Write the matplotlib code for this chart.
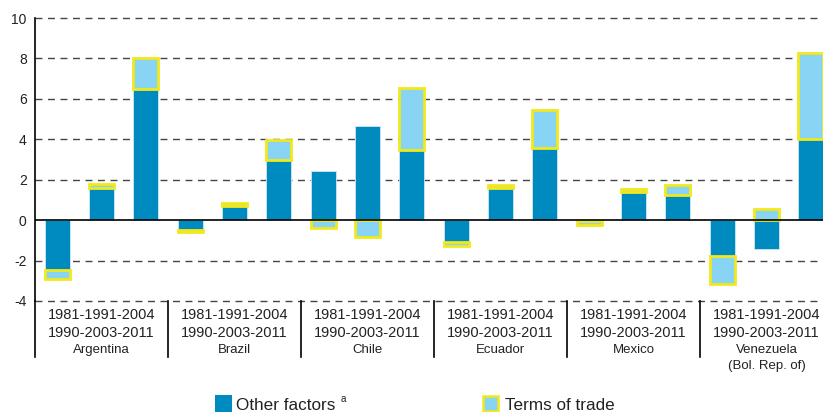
import matplotlib
matplotlib.use('Agg')
import numpy as np
import matplotlib.pyplot as plt
from matplotlib.patches import Rectangle

plt.rcParams['font.family'] = ['Liberation Sans', 'DejaVu Sans']
plt.rcParams['axes.unicode_minus'] = False

# data
countries = ['Argentina', 'Brazil', 'Chile', 'Ecuador', 'Mexico', 'Venezuela\n(Bol. Rep. of)']
periods_top = '1981-1991-2004'
periods_bottom = '1990-2003-2011'
other_factors = [-2.45, 1.6, 6.5,
                 -0.47, 0.7, 3.0,
                 2.45, 4.65, 3.46,
                 -1.1, 1.6, 3.55,
                 -0.05, 1.4, 1.23,
                 -1.79, -1.43, 4.02]
terms_of_trade = [-0.45, 0.2, 1.5,
                  -0.1, 0.13, 0.95,
                  -0.4, -0.85, 3.1,
                  -0.2, 0.12, 1.9,
                  -0.2, 0.15, 0.5,
                  -1.36, 0.55, 4.24]

blue = '#008bc0'
light = '#87d4f5'
yellow = '#f2e81a'
txt = '#222222'

W, H = 823, 412
fig = plt.figure(figsize=(W / 100, H / 100), dpi=100)
# the plot runs a little past the right edge of the picture, as in the original
ax = fig.add_axes([35 / W, 1 - 301 / H, 798 / W, 283 / H])

x = np.arange(len(other_factors))
of = np.array(other_factors)
tt = np.array(terms_of_trade)
# terms of trade stacks on other factors when same sign, else starts from zero
bottoms = np.where(np.sign(of) == np.sign(tt), of, 0.0)

ax.bar(x, of, width=0.56, color=blue, edgecolor='#cde9f4', linewidth=0.6, zorder=2)
ax.bar(x, tt, width=0.56, bottom=bottoms, color=light, edgecolor=yellow,
       linewidth=2.0, zorder=2)

ax.set_xlim(-0.5, len(x) - 0.5)
ax.set_ylim(-4, 10)
ax.set_yticks(range(-4, 11, 2))
for v in range(-4, 11, 2):
    if v != 0:
        ax.axhline(v, color='#444444', lw=1.0, ls=(0, (5, 4)), zorder=1, clip_on=False)
ax.axhline(0, color='black', lw=1.2, zorder=3)

for s in ['top', 'right', 'bottom']:
    ax.spines[s].set_visible(False)
ax.spines['left'].set_color('black')
ax.spines['left'].set_linewidth(1.2)
ax.tick_params(axis='y', length=0, pad=6, labelsize=10, colors=txt)
ax.tick_params(axis='x', length=0, labelbottom=False)

# group separators and group labels below the axis
trans = ax.get_xaxis_transform()
for i in range(len(countries)):
    xs = i * 3 - 0.5
    ax.plot([xs, xs], [0, -0.198], color='black', lw=1.2, transform=trans, clip_on=False)
    xc = i * 3 + 1
    ax.text(xc, (301 - 315) / 283, periods_top, transform=trans, ha='center',
            va='center', fontsize=10.5, color=txt)
    ax.text(xc, (301 - 333) / 283, periods_bottom, transform=trans, ha='center',
            va='center', fontsize=10.5, color=txt)
    for k, part in enumerate(countries[i].split('\n')):
        ax.text(xc, (301 - 350 - 15.5 * k) / 283, part, transform=trans, ha='center',
                va='center', fontsize=9.5, color=txt)

# legend, drawn by hand at the bottom (partly cut off like the original)
fig.patches.append(Rectangle((215 / W, 0), 17 / W, 17 / H, transform=fig.transFigure,
                             facecolor=blue, edgecolor='none'))
fig.patches.append(Rectangle((483 / W, 1.5 / H), 15 / W, 15 / H, transform=fig.transFigure,
                             facecolor=light, edgecolor=yellow, linewidth=1.8))
fig.text(236 / W, 2 / H, 'Other factors', fontsize=12.3, color=txt, va='baseline')
fig.text(341 / W, 10 / H, 'a', fontsize=7, color=txt, va='baseline')
fig.text(505 / W, 2 / H, 'Terms of trade', fontsize=12.3, color=txt, va='baseline')

fig.savefig('out.png', dpi=100)
